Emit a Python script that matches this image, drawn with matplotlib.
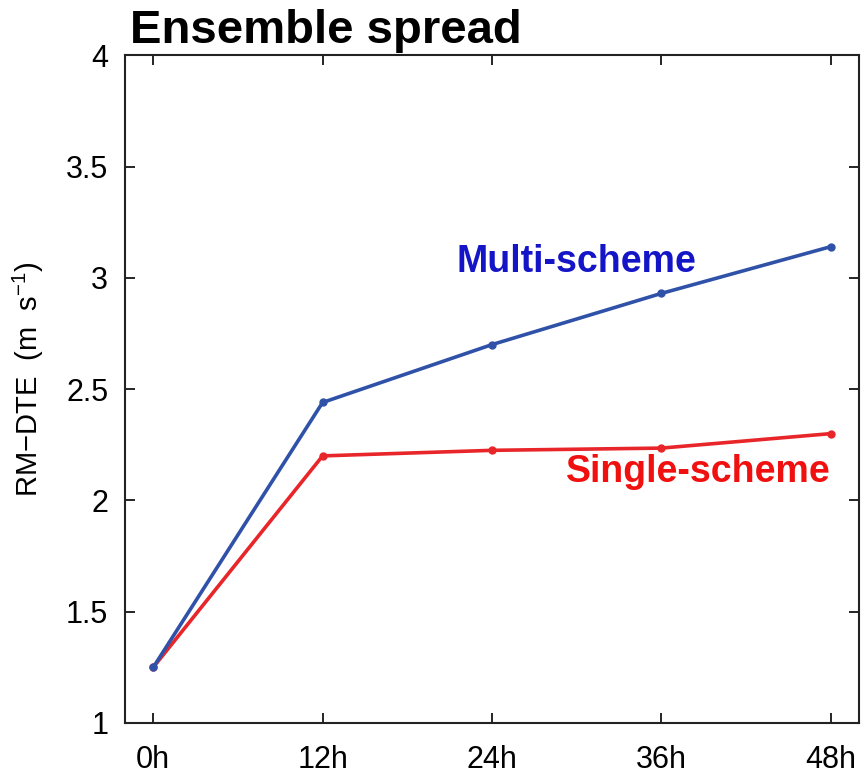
import matplotlib
matplotlib.use('Agg')
import matplotlib.pyplot as plt

# forecast lead times and RM-DTE spread for each ensemble
lead_hours = [0, 12, 24, 36, 48]
lead_labels = ['0h', '12h', '24h', '36h', '48h']
multi_scheme = [1.25, 2.44, 2.70, 2.93, 3.14]
single_scheme = [1.25, 2.20, 2.225, 2.235, 2.30]
y_ticks = [1, 1.5, 2, 2.5, 3, 3.5, 4]
y_tick_labels = ['1', '1.5', '2', '2.5', '3', '3.5', '4']

plt.rcParams['font.family'] = ['Liberation Sans', 'DejaVu Sans']
plt.rcParams['mathtext.fontset'] = 'custom'
plt.rcParams['mathtext.rm'] = 'Liberation Sans'

fig = plt.figure(figsize=(8.62, 7.78), dpi=100)
ax = fig.add_axes([0.145, 0.0707, 0.8515, 0.8583])

ax.plot(lead_hours, single_scheme, color='#e8262a', lw=2.6, marker='o', ms=5, zorder=2)
ax.plot(lead_hours, multi_scheme, color='#2f52a8', lw=2.6, marker='o', ms=5, zorder=3)

ax.set_xlim(-2, 50)
ax.set_ylim(1, 4)
ax.set_xticks(lead_hours)
ax.set_xticklabels(lead_labels)
ax.set_yticks(y_ticks)
ax.set_yticklabels(y_tick_labels)

for lab in ax.get_xticklabels() + ax.get_yticklabels():
    lab.set_fontsize(22)

ax.tick_params(direction='in', length=7, width=1.2, top=True, right=True,
               labeltop=False, labelright=False)
ax.tick_params(axis='x', pad=16)
ax.tick_params(axis='y', pad=12)
for sp in ax.spines.values():
    sp.set_linewidth(1.5)
    sp.set_color('#222222')

ax.set_ylabel(r'RM$-$DTE  (m  s$^{-1}$)', fontsize=21)
ax.yaxis.set_label_coords(-0.108, 0.515)

ax.text(30.0, 3.07, 'Multi-scheme', color='#1515c8', fontsize=27,
        fontweight='bold', ha='center', va='center')
ax.text(48.0, 2.126, 'Single-scheme', color='#f01010', fontsize=27,
        fontweight='bold', ha='right', va='center')

fig.text(130 / 862, 1 - 43 / 778, 'Ensemble spread', fontsize=34,
         fontweight='bold', ha='left', va='baseline')

fig.savefig('out.png', dpi=100)
